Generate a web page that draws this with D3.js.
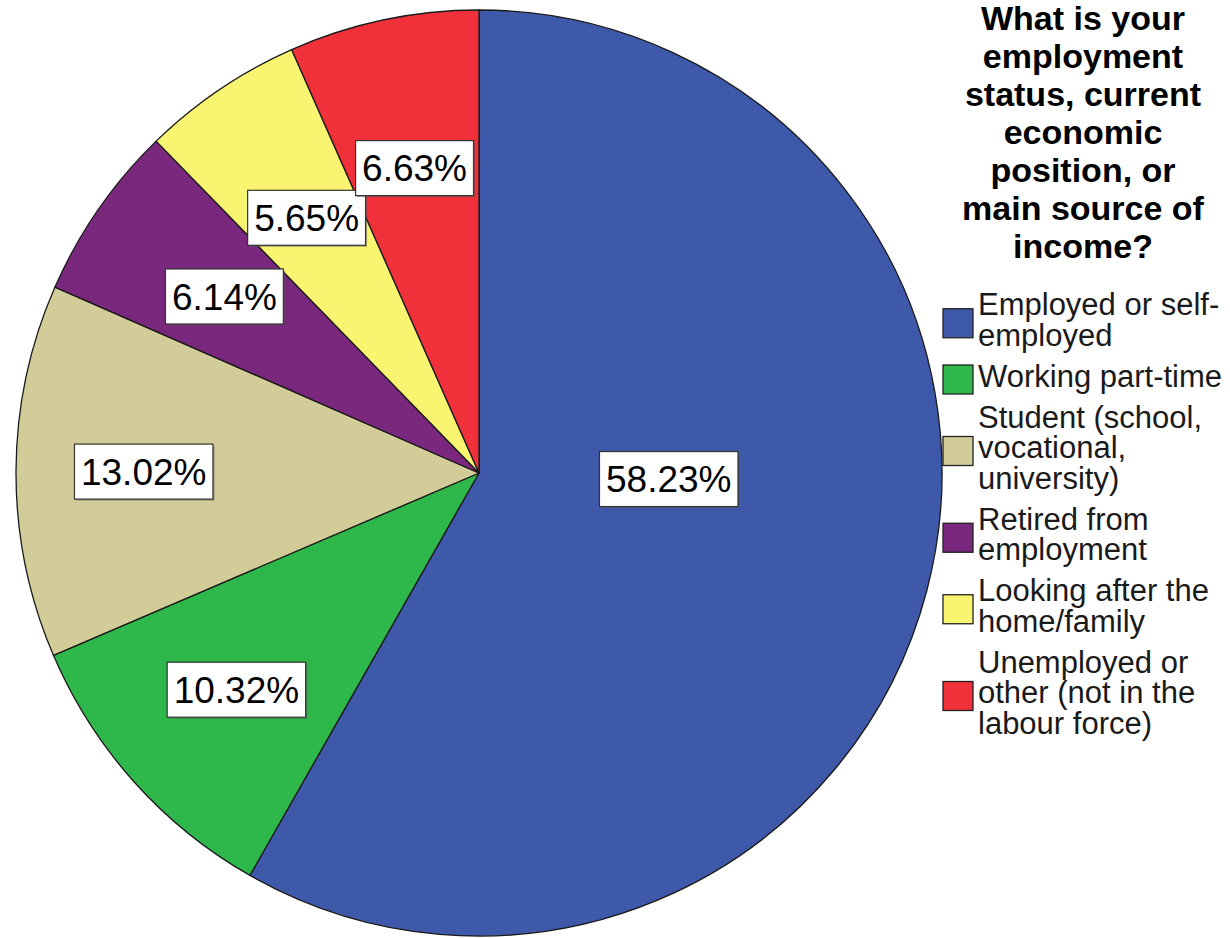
<!DOCTYPE html>
<html><head><meta charset="utf-8">
<script src="https://cdn.jsdelivr.net/npm/d3@7"></script>
<style>
html,body{margin:0;padding:0;background:#fff;}
svg{display:block;font-family:"Liberation Sans",Arial,sans-serif;}
</style></head>
<body>
<svg id="chart" width="1230" height="938"></svg>
<script>
const categories = [
  ["Employed or self-", "employed"],
  ["Working part-time"],
  ["Student (school,", "vocational,", "university)"],
  ["Retired from", "employment"],
  ["Looking after the", "home/family"],
  ["Unemployed or", "other (not in the", "labour force)"]
];
const values = [58.23, 10.32, 13.02, 6.14, 5.65, 6.63];
const colors = ["#3e58aa", "#2eb74b", "#d2cc98", "#7a287e", "#faf571", "#f0313a"];
const titleLines = ["What is your", "employment", "status, current", "economic", "position, or", "main source of", "income?"];

const svg = d3.select("#chart");
const cx = 479, cy = 473, R = 463;

const data = values.map((v, i) => ({ value: v, label: categories[i], color: colors[i] }));
const pie = d3.pie().sort(null).value(d => d.value);
const arcs = pie(data);
const arc = d3.arc().innerRadius(0).outerRadius(R);

const g = svg.append("g").attr("transform", `translate(${cx},${cy})`);
g.selectAll("path.slice").data(arcs).join("path")
  .attr("class", "slice")
  .attr("d", arc)
  .attr("fill", d => d.data.color)
  .attr("stroke", "#1a1a1a")
  .attr("stroke-width", 1.3)
  .attr("stroke-linejoin", "round");

// labels
const fmt = v => d3.format(".2f")(v) + "%";
const total = d3.sum(values);
function labelPos(d) {
  const frac = d.data.value / total;
  let a = (d.startAngle + d.endAngle) / 2;
  let r;
  if (frac > 0.5) {
    a = a - 13 * Math.PI / 180;
    r = R * 0.41;
  } else {
    r = R * (0.62 + 0.8 * frac);
  }
  return [r * Math.sin(a), -r * Math.cos(a)];
}
const fs = 37;
const lab = g.selectAll("g.lab").data(arcs).join("g")
  .attr("class", "lab")
  .attr("transform", d => `translate(${labelPos(d)})`);
lab.each(function(d) {
  const s = d3.select(this);
  const t = s.append("text")
    .attr("text-anchor", "middle")
    .attr("dy", "0.36em")
    .attr("font-size", fs)
    .attr("fill", "#000")
    .text(fmt(d.data.value));
  const w = t.node().getComputedTextLength() + 13;
  const h = 55;
  s.insert("rect", "text")
    .attr("x", -w / 2 + 1.5).attr("y", -h / 2 + 1.5)
    .attr("width", w).attr("height", h)
    .attr("fill", "#555").attr("opacity", 0.5);
  s.insert("rect", "text")
    .attr("x", -w / 2).attr("y", -h / 2)
    .attr("width", w).attr("height", h)
    .attr("fill", "#fff")
    .attr("stroke", "#333").attr("stroke-width", 1.2);
});

// legend title
const tx = 1083;
svg.append("text")
  .attr("x", tx).attr("y", 30)
  .attr("text-anchor", "middle")
  .attr("font-size", 34).attr("font-weight", "bold")
  .selectAll("tspan").data(titleLines).join("tspan")
  .attr("x", tx).attr("dy", (d, i) => i === 0 ? 0 : 38)
  .text(d => d);

// legend items
const lineH = 30.5, itemGap = 10.5, lfs = 31;
let y0 = 315;
const leg = svg.append("g");
data.forEach((d, i) => {
  const n = d.label.length;
  const first = y0;
  const lastBase = y0 + (n - 1) * lineH;
  const mid = (first - 22 + lastBase + 7) / 2;
  leg.append("rect")
    .attr("x", 943).attr("y", mid - 14)
    .attr("width", 30).attr("height", 29)
    .attr("fill", d.color)
    .attr("stroke", "#222").attr("stroke-width", 1.3);
  const t = leg.append("text")
    .attr("x", 978).attr("y", first)
    .attr("font-size", lfs).attr("fill", "#1a1a1a");
  t.selectAll("tspan").data(d.label).join("tspan")
    .attr("x", 978).attr("dy", (s, j) => j === 0 ? 0 : lineH)
    .text(s => s);
  y0 = lastBase + lineH + itemGap;
});
</script>
</body></html>
